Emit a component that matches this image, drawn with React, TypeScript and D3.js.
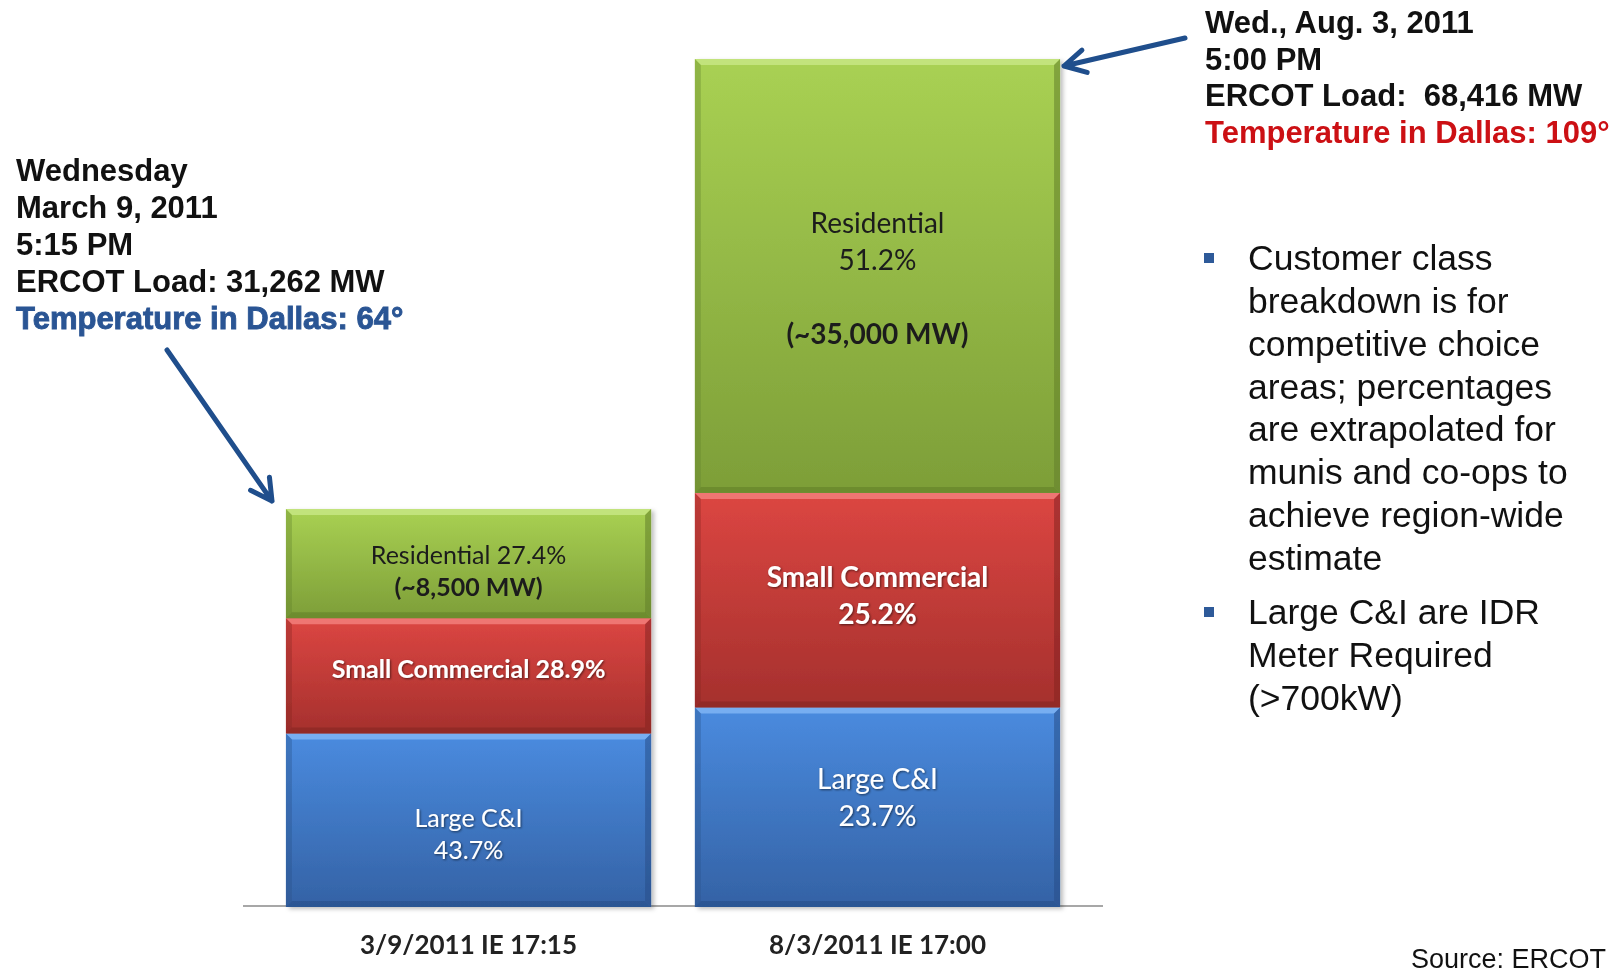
import React from "react";
import * as d3 from "d3";

const categories = ["3/9/2011 IE 17:15", "8/3/2011 IE 17:00"];
const largeCI = [14000, 16100];
const smallCommercial = [9300, 17300];
const residential = [8800, 35000];
const seriesKeys = ["largeCI", "smallCommercial", "residential"];

const largeLabels = [["Large C&I", "43.7%"], ["Large C&I", "23.7%"]];
const smallLabels = [["Small Commercial 28.9%"], ["Small Commercial", "25.2%"]];
const resLabels = [["Residential 27.4%", "(~8,500 MW)"], ["Residential", "51.2%", "", "(~35,000 MW)"]];

const leftNote = ["Wednesday", "March 9, 2011", "5:15 PM", "ERCOT Load: 31,262 MW"];
const leftTemp = "Temperature in Dallas: 64°";
const rightNote = ["Wed., Aug. 3, 2011", "5:00 PM", "ERCOT Load:  68,416 MW"];
const rightTemp = "Temperature in Dallas: 109°";
const bullets = [
  ["Customer class", "breakdown is for", "competitive choice", "areas; percentages", "are extrapolated for", "munis and co-ops to", "achieve region-wide", "estimate"],
  ["Large C&I are IDR", "Meter Required", "(>700kW)"],
];
const sourceText = "Source: ERCOT";

const W = 1612;
const H = 978;

const palette: Record<string, { top: string; bot: string; hi: string; lo: string }> = {
  largeCI: { top: "#4a8bdf", bot: "#3462a5", hi: "#7fb4f5", lo: "#284f88" },
  smallCommercial: { top: "#dc4642", bot: "#a5302d", hi: "#f27f7b", lo: "#852522" },
  residential: { top: "#a9d153", bot: "#7d9e38", hi: "#c7e684", lo: "#62802a" },
};

const labelMap: Record<string, string[][]> = {
  largeCI: largeLabels,
  smallCommercial: smallLabels,
  residential: resLabels,
};

const labelShift: Record<string, number[]> = {
  largeCI: [14, -9],
  smallCommercial: [-7, -4],
  residential: [8, 3],
};

function arrowPath(x1: number, y1: number, x2: number, y2: number, len = 24, ang = 0.5) {
  const a = Math.atan2(y2 - y1, x2 - x1);
  const b1x = x2 - len * Math.cos(a - ang);
  const b1y = y2 - len * Math.sin(a - ang);
  const b2x = x2 - len * Math.cos(a + ang);
  const b2y = y2 - len * Math.sin(a + ang);
  return `M${x1},${y1}L${x2},${y2}M${b1x},${b1y}L${x2},${y2}L${b2x},${b2y}`;
}

export default function App() {
  const rows = categories.map((c, i) => ({
    cat: c,
    largeCI: largeCI[i],
    smallCommercial: smallCommercial[i],
    residential: residential[i],
  }));
  const stack = d3.stack<any>().keys(seriesKeys)(rows);
  const total = d3.max(rows, (r) => r.largeCI + r.smallCommercial + r.residential) as number;

  const x = d3.scaleBand<string>().domain(categories).range([243, 1103]).paddingInner(0.107).paddingOuter(0.105);
  const y = d3.scaleLinear().domain([0, total]).range([907, 59]);
  const bw = x.bandwidth();
  const bev = 6;

  const sans = "'Liberation Sans', Arial, Helvetica, sans-serif";
  const cal = "Lato, 'Open Sans', sans-serif";

  return (
    <svg width={W} height={H} style={{ position: "absolute", left: 0, top: 0, background: "#fff" }}>
      <defs>
        {seriesKeys.map((k) => (
          <linearGradient key={k} id={`g-${k}`} x1="0" y1="0" x2="0" y2="1">
            <stop offset="0%" stopColor={palette[k].top} />
            <stop offset="100%" stopColor={palette[k].bot} />
          </linearGradient>
        ))}
        <filter id="txtShadow" x="-10%" y="-30%" width="120%" height="160%">
          <feDropShadow dx="1" dy="1" stdDeviation="0.8" floodColor="#000" floodOpacity="0.55" />
        </filter>
        <filter id="barShadow" x="-5%" y="-5%" width="115%" height="115%">
          <feDropShadow dx="3" dy="2" stdDeviation="2" floodColor="#000" floodOpacity="0.25" />
        </filter>
      </defs>
      <rect x={0} y={0} width={W} height={H} fill="#fff" />

      {/* axis baseline */}
      <line x1={243} x2={1103} y1={y(0) - 1} y2={y(0) - 1} stroke="#8a8a8a" strokeWidth={1.5} />

      {/* bars */}
      <g filter="url(#barShadow)">
        {stack.map((layer) =>
          layer.map((d, i) => {
            const k = layer.key;
            const x0 = x(categories[i]) as number;
            const x1 = x0 + bw;
            const y0 = y(d[1]);
            const y1 = y(d[0]);
            const p = palette[k];
            return (
              <g key={`${k}-${i}`}>
                <rect x={x0} y={y0} width={bw} height={y1 - y0} fill={`url(#g-${k})`} />
                <polygon points={`${x0},${y0} ${x1},${y0} ${x1 - bev},${y0 + bev} ${x0 + bev},${y0 + bev}`} fill={p.hi} opacity={0.85} />
                <polygon points={`${x0},${y0} ${x0 + bev},${y0 + bev} ${x0 + bev},${y1 - bev} ${x0},${y1}`} fill={p.lo} opacity={0.35} />
                <polygon points={`${x1},${y0} ${x1 - bev},${y0 + bev} ${x1 - bev},${y1 - bev} ${x1},${y1}`} fill={p.lo} opacity={0.55} />
                <polygon points={`${x0},${y1} ${x0 + bev},${y1 - bev} ${x1 - bev},${y1 - bev} ${x1},${y1}`} fill={p.lo} opacity={0.6} />
              </g>
            );
          })
        )}
      </g>

      {/* bar labels */}
      {stack.map((layer) =>
        layer.map((d, i) => {
          const k = layer.key;
          const lines = labelMap[k][i];
          const cx = (x(categories[i]) as number) + bw / 2;
          const cy = (y(d[0]) + y(d[1])) / 2 + labelShift[k][i];
          const lh = i === 0 ? 32 : 37;
          const fs = i === 0 ? 25 : 28;
          const dark = k === "residential";
          return (
            <g key={`lab-${k}-${i}`}>
              {lines.map((t, j) => {
                const ly = cy + (j - (lines.length - 1) / 2) * lh;
                const bold = t.startsWith("(") || k === "smallCommercial";
                return (
                  <text
                    key={j}
                    x={cx}
                    y={ly}
                    dy="0.35em"
                    textAnchor="middle"
                    fontFamily={cal}
                    fontSize={fs}
                    fontWeight={bold ? 700 : 400}
                    fill={dark ? "#1c1c1c" : "#ffffff"}
                    filter={dark ? undefined : "url(#txtShadow)"}
                  >
                    {t}
                  </text>
                );
              })}
            </g>
          );
        })
      )}

      {/* category labels */}
      {categories.map((c) => (
        <text
          key={c}
          x={(x(c) as number) + bw / 2}
          y={945}
          dy="0.35em"
          textAnchor="middle"
          fontFamily={cal}
          fontSize={26}
          fontWeight={700}
          fill="#222"
        >
          {c}
        </text>
      ))}

      {/* left annotation */}
      {leftNote.map((t, j) => (
        <text key={t} x={16} y={181 + j * 37} fontFamily={sans} fontSize={31} fontWeight={700} fill="#111">
          {t}
        </text>
      ))}
      <text x={16} y={329} fontFamily={sans} fontSize={31} fontWeight={700} fill="#2a5594" stroke="#2a5594" strokeWidth={0.9}>
        {leftTemp}
      </text>

      {/* right annotation */}
      {rightNote.map((t, j) => (
        <text key={t} x={1205} y={33 + j * 36.5} fontFamily={sans} fontSize={31} fontWeight={700} fill="#111" style={{ whiteSpace: "pre" }}>
          {t}
        </text>
      ))}
      <text x={1205} y={142.5} fontFamily={sans} fontSize={31} fontWeight={700} fill="#cc1014">
        {rightTemp}
      </text>

      {/* arrows */}
      <path d={arrowPath(167, 350, 272, 501)} stroke="#1f4e8c" strokeWidth={5} fill="none" strokeLinecap="round" strokeLinejoin="round" />
      <path d={arrowPath(1185, 38, 1064, 66)} stroke="#1f4e8c" strokeWidth={5} fill="none" strokeLinecap="round" strokeLinejoin="round" />

      {/* bullets */}
      {bullets.map((lines, bi) => {
        const base = bi === 0 ? 270 : 624;
        const step = bi === 0 ? 42.86 : 43;
        return (
          <g key={bi}>
            <rect x={1204} y={base - 17} width={10} height={10} fill="#2e5a99" />
            {lines.map((t, j) => (
              <text key={j} x={1248} y={base + j * step} fontFamily={sans} fontSize={35.5} fill="#111">
                {t}
              </text>
            ))}
          </g>
        );
      })}

      {/* source */}
      <text x={1606} y={968} textAnchor="end" fontFamily={sans} fontSize={27} fill="#111">
        {sourceText}
      </text>
    </svg>
  );
}
